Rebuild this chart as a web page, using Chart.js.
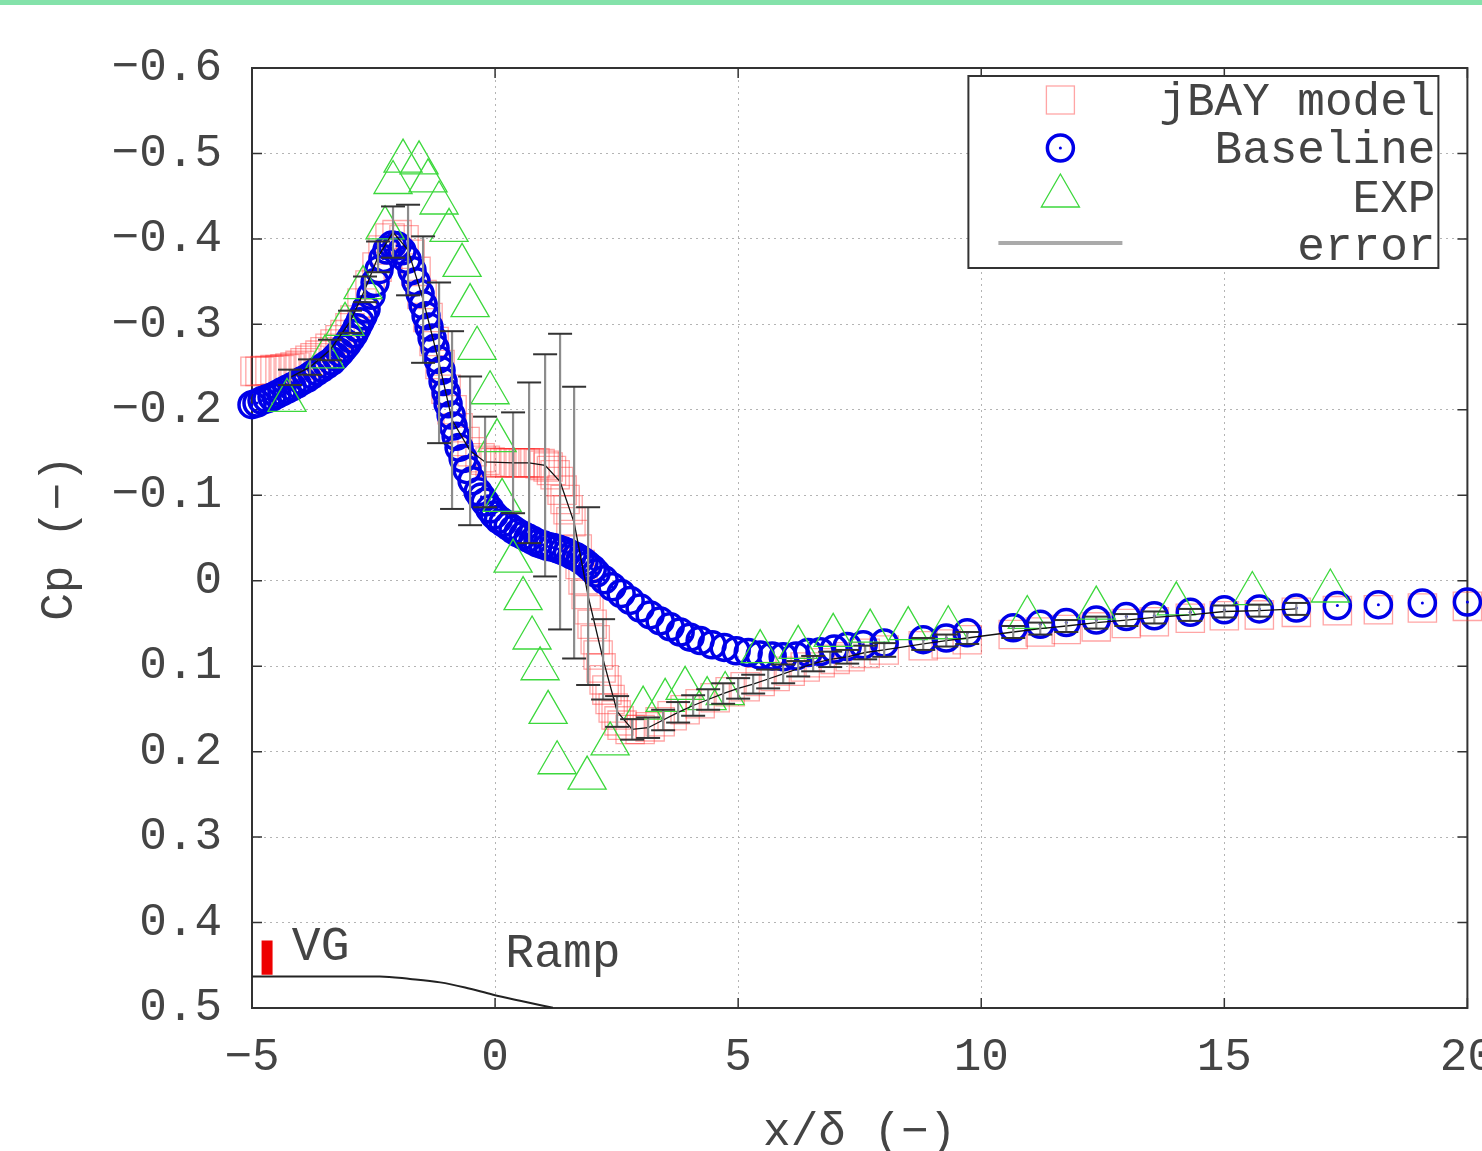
<!DOCTYPE html>
<html>
<head>
<meta charset="utf-8">
<title>Cp distribution</title>
<script src="https://cdn.jsdelivr.net/npm/chart.js@4.4.0/dist/chart.umd.min.js"></script>
<style>
  html, body { margin: 0; padding: 0; background: #fff; overflow: hidden; }
  #wrap { position: relative; width: 1482px; height: 1151px; overflow: hidden; background: #fff; }
  #topbar { position: absolute; left: 0; top: 0; width: 1482px; height: 5px; background: #84e2aa; z-index: 2; }
  #myChart { position: absolute; left: 0; top: 0; }
</style>
</head>
<body>
<div id="wrap">
  <div id="topbar"></div>
  <canvas id="myChart" width="1517" height="1170"></canvas>
</div>
<script>
// axis ticks
const xTicks = [-5, 0, 5, 10, 15, 20];
const yTicks = [-0.6, -0.5, -0.4, -0.3, -0.2, -0.1, 0, 0.1, 0.2, 0.3, 0.4, 0.5];

// Baseline (blue circles)
const baselineX = [-5.000, -4.897, -4.794, -4.691, -4.588, -4.486, -4.383, -4.280, -4.177, -4.074,
  -3.971, -3.868, -3.765, -3.663, -3.560, -3.457, -3.354, -3.272, -3.189, -3.117,
  -3.045, -2.973, -2.901, -2.840, -2.778, -2.716, -2.654, -2.551, -2.469, -2.387,
  -2.305, -2.222, -2.119, -2.016, -1.914, -1.811, -1.708, -1.626, -1.543, -1.481,
  -1.420, -1.358, -1.296, -1.235, -1.173, -1.111, -1.070, -1.008, -0.967, -0.905,
  -0.864, -0.802, -0.741, -0.658, -0.576, -0.473, -0.350, -0.280, -0.206, -0.110,
  -0.021, 0.070, 0.165, 0.270, 0.370, 0.470, 0.576, 0.680, 0.782, 0.880,
  0.988, 1.090, 1.193, 1.300, 1.399, 1.490, 1.584, 1.670, 1.749, 1.830,
  1.914, 2.000, 2.078, 2.243, 2.407, 2.593, 2.778, 2.984, 3.189, 3.395,
  3.601, 3.807, 4.012, 4.218, 4.465, 4.712, 4.959, 5.206, 5.453, 5.700,
  5.926, 6.193, 6.440, 6.687, 6.975, 7.243, 7.572, 8.004, 8.807, 9.280,
  9.712, 10.658, 11.214, 11.749, 12.366, 12.984, 13.560, 14.300, 15.000, 15.720,
  16.481, 17.325, 18.169, 19.074, 20.0];
const baselineCp = [-0.206, -0.208, -0.211, -0.213, -0.215, -0.218, -0.221, -0.224, -0.227, -0.230,
  -0.234, -0.237, -0.241, -0.245, -0.249, -0.253, -0.257, -0.262, -0.267, -0.272,
  -0.277, -0.283, -0.289, -0.296, -0.303, -0.310, -0.318, -0.334, -0.349, -0.364,
  -0.377, -0.387, -0.393, -0.392, -0.386, -0.376, -0.363, -0.350, -0.336, -0.323,
  -0.310, -0.297, -0.284, -0.272, -0.259, -0.246, -0.233, -0.220, -0.207, -0.194,
  -0.181, -0.169, -0.156, -0.143, -0.130, -0.117, -0.104, -0.098, -0.092, -0.084,
  -0.077, -0.072, -0.068, -0.064, -0.060, -0.056, -0.053, -0.050, -0.047, -0.044,
  -0.042, -0.040, -0.039, -0.037, -0.035, -0.033, -0.030, -0.028, -0.025, -0.022,
  -0.018, -0.014, -0.009, -0.001, 0.007, 0.015, 0.023, 0.032, 0.040, 0.047,
  0.054, 0.060, 0.066, 0.070, 0.075, 0.078, 0.082, 0.084, 0.087, 0.088,
  0.089, 0.088, 0.084, 0.083, 0.080, 0.077, 0.075, 0.073, 0.069, 0.067,
  0.061, 0.055, 0.051, 0.049, 0.046, 0.042, 0.041, 0.037, 0.034, 0.033,
  0.032, 0.029, 0.028, 0.026, 0.025];

// jBAY model (red squares)
const jbayX = [-4.938, -4.836, -4.733, -4.630, -4.527, -4.424, -4.321, -4.218, -4.115, -4.012,
  -3.909, -3.807, -3.704, -3.601, -3.498, -3.395, -3.292, -3.189, -3.086, -2.984,
  -2.881, -2.737, -2.572, -2.428, -2.305, -2.160, -2.016, -1.873, -1.749, -1.626,
  -1.502, -1.379, -1.255, -1.132, -1.008, -0.885, -0.761, -0.617, -0.473, -0.309,
  -0.200, -0.103, 0.000, 0.103, 0.200, 0.309, 0.410, 0.514, 0.620, 0.720,
  0.820, 0.926, 1.010, 1.091, 1.160, 1.235, 1.310, 1.379, 1.440, 1.502,
  1.560, 1.626, 1.690, 1.749, 1.810, 1.873, 1.930, 1.996, 2.060, 2.119,
  2.180, 2.243, 2.300, 2.366, 2.430, 2.490, 2.550, 2.613, 2.778, 2.984,
  3.189, 3.395, 3.642, 3.909, 4.218, 4.527, 4.835, 5.144, 5.453, 5.761,
  6.070, 6.379, 6.687, 6.996, 7.305, 7.613, 8.004, 8.807, 9.280, 9.712,
  10.658, 11.214, 11.749, 12.366, 12.984, 13.560, 14.300, 15.000, 15.720, 16.481,
  17.325, 18.169, 19.074, 20.0];
const jbayCp = [-0.245, -0.245, -0.246, -0.246, -0.247, -0.247, -0.248, -0.249, -0.250, -0.252,
  -0.255, -0.258, -0.261, -0.264, -0.268, -0.272, -0.277, -0.282, -0.288, -0.296,
  -0.305, -0.325, -0.346, -0.367, -0.387, -0.401, -0.405, -0.399, -0.382, -0.362,
  -0.335, -0.308, -0.280, -0.253, -0.224, -0.200, -0.179, -0.163, -0.151, -0.144,
  -0.141, -0.139, -0.138, -0.138, -0.138, -0.138, -0.138, -0.138, -0.138, -0.138,
  -0.138, -0.137, -0.135, -0.133, -0.129, -0.124, -0.116, -0.106, -0.095, -0.083,
  -0.069, -0.054, -0.037, -0.019, -0.001, 0.016, 0.034, 0.051, 0.069, 0.087,
  0.102, 0.116, 0.128, 0.139, 0.149, 0.157, 0.164, 0.169, 0.174, 0.174,
  0.171, 0.165, 0.158, 0.151, 0.144, 0.137, 0.130, 0.124, 0.118, 0.112,
  0.106, 0.101, 0.096, 0.092, 0.089, 0.085, 0.081, 0.076, 0.074, 0.069,
  0.063, 0.060, 0.057, 0.054, 0.050, 0.048, 0.044, 0.041, 0.040, 0.037,
  0.035, 0.034, 0.032, 0.030];

// EXP (green triangles)
const expX = [-4.280, -3.498, -3.086, -2.716, -2.263, -2.099, -1.893, -1.564, -1.379, -1.152,
  -0.947, -0.679, -0.514, -0.370, -0.103, 0.041, 0.144, 0.370, 0.576, 0.761,
  0.926, 1.091, 1.276, 1.893, 2.366, 3.045, 3.498, 3.909, 4.362, 4.733,
  5.453, 6.235, 6.955, 7.716, 8.498, 9.321, 10.947, 12.366, 14.012, 15.576,
  17.181];
const expCp = [-0.211, -0.262, -0.300, -0.343, -0.413, -0.466, -0.491, -0.489, -0.468, -0.442,
  -0.410, -0.369, -0.322, -0.272, -0.220, -0.164, -0.094, -0.023, 0.021, 0.067,
  0.103, 0.154, 0.213, 0.231, 0.191, 0.149, 0.140, 0.126, 0.138, 0.132,
  0.083, 0.078, 0.064, 0.059, 0.056, 0.055, 0.043, 0.032, 0.027, 0.015,
  0.012];

// error: mean and spread
const errX = [-4.218, -3.807, -3.395, -2.984, -2.675, -2.407, -2.099, -1.790, -1.481, -1.152,
  -0.885, -0.514, -0.206, 0.370, 0.700, 1.029, 1.337, 1.626, 1.914, 2.222,
  2.510, 2.819, 3.148, 3.457, 3.765, 4.074, 4.383, 4.691, 5.000, 5.309,
  5.617, 5.926, 6.235, 6.543, 6.893, 7.243, 7.613, 8.004, 8.807, 9.280,
  9.712, 10.658, 11.214, 11.749, 12.366, 12.984, 13.560, 14.300, 15.000, 15.720,
  16.481];
const errMean = [-0.238, -0.250, -0.270, -0.303, -0.341, -0.379, -0.408, -0.387, -0.329, -0.255,
  -0.188, -0.152, -0.139, -0.138, -0.138, -0.135, -0.116, -0.068, 0.018, 0.092,
  0.153, 0.174, 0.172, 0.163, 0.154, 0.146, 0.139, 0.132, 0.126, 0.121,
  0.115, 0.109, 0.103, 0.097, 0.092, 0.089, 0.084, 0.081, 0.074, 0.070,
  0.067, 0.060, 0.056, 0.053, 0.049, 0.046, 0.043, 0.040, 0.036, 0.035,
  0.033];
const errStd = [0.009, 0.009, 0.012, 0.013, 0.015, 0.018, 0.030, 0.053, 0.074, 0.094,
  0.104, 0.087, 0.053, 0.059, 0.094, 0.130, 0.173, 0.159, 0.104, 0.047,
  0.018, 0.012, 0.012, 0.012, 0.012, 0.012, 0.012, 0.012, 0.012, 0.011,
  0.011, 0.011, 0.009, 0.009, 0.009, 0.008, 0.008, 0.008, 0.007, 0.007,
  0.007, 0.007, 0.007, 0.007, 0.007, 0.007, 0.007, 0.007, 0.007, 0.007,
  0.007];

// ramp geometry and VG
const rampX = [-5, -2.37, -1.749, -1.13, -0.617, -0.04, 0.514, 1.19];
const rampY = [0.463, 0.463, 0.466, 0.470, 0.476, 0.4845, 0.4915, 0.4997];
const vgX = [-4.69, -4.69];
const vgY = [0.421, 0.461];

const FONT = "'Liberation Mono', 'DejaVu Sans Mono', monospace";
const INK = "#444";
const RED = "rgba(255, 40, 40, 0.42)";
const BLUE = "#0000e8";
const GREEN = "#3cd83c";

const pts = (xs, ys) => xs.map((v, i) => ({ x: v, y: ys[i] }));

const errBars = [];
const errCaps = [];
errX.forEach((v, i) => {
  const lo = errMean[i] - errStd[i];
  const hi = errMean[i] + errStd[i];
  errBars.push({ x: v, y: lo }, { x: v, y: hi }, { x: v, y: null });
  errCaps.push({ x: v, y: lo }, { x: v, y: hi });
});

function minusSign(s) {
  return s.replace("-", "\u2212");
}

// frame, inward ticks, legend box and labels
const decorations = {
  id: "decorations",
  beforeDatasetsDraw(chart) {
    const { ctx, chartArea: a, scales } = chart;
    ctx.save();
    ctx.strokeStyle = "#333";
    ctx.lineWidth = 2;
    ctx.strokeRect(a.left, a.top, a.right - a.left, a.bottom - a.top);
    ctx.lineWidth = 1.5;
    ctx.beginPath();
    scales.x.ticks.forEach(t => {
      const px = scales.x.getPixelForValue(t.value);
      ctx.moveTo(px, a.bottom); ctx.lineTo(px, a.bottom - 10);
      ctx.moveTo(px, a.top); ctx.lineTo(px, a.top + 10);
    });
    scales.y.ticks.forEach(t => {
      const py = scales.y.getPixelForValue(t.value);
      ctx.moveTo(a.left, py); ctx.lineTo(a.left + 10, py);
      ctx.moveTo(a.right, py); ctx.lineTo(a.right - 10, py);
    });
    ctx.stroke();
    ctx.restore();
  },
  afterDatasetsDraw(chart) {
    const { ctx, scales } = chart;
    ctx.save();
    ctx.fillStyle = INK;
    ctx.font = "48px " + FONT;
    ctx.textBaseline = "alphabetic";
    ctx.fillText("VG", scales.x.getPixelForValue(-4.18), scales.y.getPixelForValue(0.4435));
    ctx.fillText("Ramp", scales.x.getPixelForValue(0.21), scales.y.getPixelForValue(0.452));
    ctx.restore();
  },
  afterDraw(chart) {
    const { ctx, chartArea: a } = chart;
    const left = a.right - 499, top = a.top + 8, right = a.right - 29, bottom = a.top + 200;
    const sx = left + 92;
    ctx.save();
    ctx.fillStyle = "#fff";
    ctx.fillRect(left, top, right - left, bottom - top);
    ctx.strokeStyle = "#333";
    ctx.lineWidth = 2;
    ctx.strokeRect(left, top, right - left, bottom - top);

    // square
    ctx.strokeStyle = RED;
    ctx.lineWidth = 1.3;
    ctx.strokeRect(sx - 14, top + 10, 28, 28);
    // circle
    ctx.strokeStyle = BLUE;
    ctx.lineWidth = 3.5;
    ctx.beginPath();
    ctx.arc(sx, top + 72, 13, 0, Math.PI * 2);
    ctx.stroke();
    ctx.fillStyle = BLUE;
    ctx.beginPath();
    ctx.arc(sx, top + 72, 1.5, 0, Math.PI * 2);
    ctx.fill();
    // triangle
    const ty = top + 120, r = 22;
    ctx.strokeStyle = GREEN;
    ctx.lineWidth = 1.3;
    ctx.beginPath();
    ctx.moveTo(sx, ty - r);
    ctx.lineTo(sx + r * Math.sin(2 * Math.PI / 3), ty + r / 2);
    ctx.lineTo(sx - r * Math.sin(2 * Math.PI / 3), ty + r / 2);
    ctx.closePath();
    ctx.stroke();
    // error line
    ctx.strokeStyle = "#aaa";
    ctx.lineWidth = 4;
    ctx.beginPath();
    ctx.moveTo(left + 30, top + 167);
    ctx.lineTo(left + 154, top + 167);
    ctx.stroke();

    ctx.fillStyle = INK;
    ctx.font = "46px " + FONT;
    ctx.textAlign = "right";
    ctx.textBaseline = "alphabetic";
    const names = ["jBAY model", "Baseline", "EXP", "error"];
    const offs = [39, 87, 136, 184];
    names.forEach((n, i) => ctx.fillText(n, right - 3, top + offs[i]));
    ctx.restore();
  }
};

const ctx = document.getElementById("myChart").getContext("2d");

const chart = new Chart(ctx, {
  type: "scatter",
  data: {
    datasets: [
      {
        label: "error caps",
        data: errCaps,
        pointStyle: "line",
        pointRadius: 12,
        borderColor: "#333",
        borderWidth: 2,
        showLine: false,
        clip: false,
        order: 0,
      },
      {
        label: "error",
        data: errBars,
        showLine: true,
        spanGaps: false,
        pointRadius: 0,
        borderColor: "#8c8c8c",
        borderWidth: 2.2,
        clip: false,
        order: 0,
      },
      {
        label: "mean",
        data: pts(errX, errMean),
        showLine: true,
        pointRadius: 0,
        borderColor: "#111",
        borderWidth: 1.3,
        clip: false,
        order: 0,
      },
      {
        label: "EXP",
        data: pts(expX, expCp),
        pointStyle: "triangle",
        pointRadius: 22,
        borderColor: GREEN,
        backgroundColor: "transparent",
        borderWidth: 1.3,
        clip: false,
        order: 1,
      },
      {
        label: "Baseline centre",
        data: pts(baselineX, baselineCp),
        pointStyle: "circle",
        pointRadius: 1.5,
        borderWidth: 0,
        backgroundColor: BLUE,
        clip: false,
        order: 2,
      },
      {
        label: "Baseline",
        data: pts(baselineX, baselineCp),
        pointStyle: "circle",
        pointRadius: 13,
        borderColor: BLUE,
        backgroundColor: "transparent",
        borderWidth: 3.5,
        clip: false,
        order: 2,
      },
      {
        label: "jBAY model",
        data: pts(jbayX, jbayCp),
        pointStyle: "rect",
        pointRadius: 20,
        borderColor: RED,
        backgroundColor: "transparent",
        borderWidth: 1.3,
        clip: false,
        order: 3,
      },
      {
        label: "ramp",
        data: pts(rampX, rampY),
        showLine: true,
        pointRadius: 0,
        borderColor: "#222",
        borderWidth: 2,
        cubicInterpolationMode: "monotone",
        order: 4,
      },
      {
        label: "VG",
        data: pts(vgX, vgY),
        showLine: true,
        pointRadius: 0,
        borderColor: "#ee0000",
        borderWidth: 11,
        order: 4,
      },
    ],
  },
  options: {
    responsive: false,
    animation: false,
    events: [],
    layout: { padding: { top: 68, right: 33, left: 0, bottom: 0 } },
    plugins: {
      legend: { display: false },
      tooltip: { enabled: false },
    },
    scales: {
      x: {
        type: "linear",
        min: -5,
        max: 20,
        afterBuildTicks: (axis) => { axis.ticks = xTicks.map(v => ({ value: v })); },
        afterFit: (axis) => { axis.height = 162; },
        grid: { color: "#b4b4b4", lineWidth: 1, drawTicks: false },
        border: { display: false, dash: [2, 4] },
        ticks: {
          padding: 22,
          color: INK,
          font: { family: FONT, size: 46 },
          maxRotation: 0,
          callback: (v) => minusSign(String(v)),
        },
        title: {
          display: true,
          text: "x/\u03b4 (\u2212)",
          color: INK,
          font: { family: FONT, size: 46 },
          padding: { top: 0, bottom: 10 },
        },
      },
      y: {
        type: "linear",
        reverse: true,
        min: -0.6,
        max: 0.5,
        afterBuildTicks: (axis) => { axis.ticks = yTicks.map(v => ({ value: v })); },
        afterFit: (axis) => { axis.width = 252; },
        grid: { color: "#b4b4b4", lineWidth: 1, drawTicks: false },
        border: { display: false, dash: [2, 4] },
        ticks: {
          padding: 30,
          color: INK,
          font: { family: FONT, size: 46 },
          callback: (v) => (Math.abs(v) < 1e-9 ? "0" : minusSign(v.toFixed(1))),
        },
        title: {
          display: true,
          text: "Cp (\u2212)",
          color: INK,
          font: { family: FONT, size: 46 },
          padding: { top: 32, bottom: 0 },
        },
      },
    },
  },
  plugins: [decorations],
});
</script>
</body>
</html>
